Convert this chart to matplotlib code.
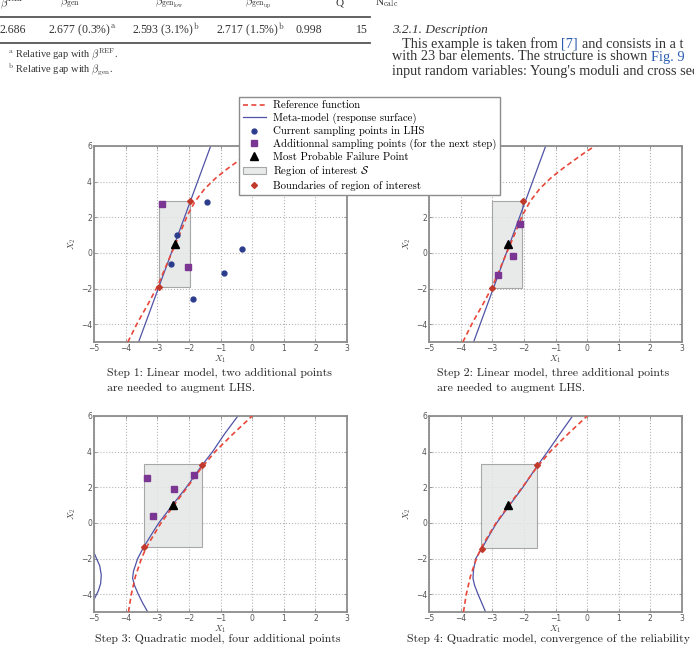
import matplotlib
matplotlib.use('Agg')
import matplotlib.pyplot as plt
from matplotlib.patches import Rectangle
from matplotlib.lines import Line2D

plt.rcParams['mathtext.fontset'] = 'cm'

W, H = 694, 646

# reference limit state as drawn in steps 1-2 and steps 3-4
ref_a_x = [-3.93, -3.62, -3.3, -3.0, -2.76, -2.52, -2.28, -2.05, -1.8, -1.5, -1.15, -0.8, -0.45, -0.1, 0.25]
ref_a_y = [-5.0, -3.9, -2.9, -1.9, -0.9, 0.1, 1.1, 2.1, 2.9, 3.6, 4.2, 4.7, 5.15, 5.6, 6.0]
ref_b_x = [-3.91, -3.82, -3.69, -3.5, -3.35, -3.22, -2.88, -2.47, -2.05, -1.64, -1.17, -0.6, 0.0]
ref_b_y = [-5.0, -4.0, -3.0, -2.0, -1.4, -1.0, 0.0, 1.0, 2.0, 3.0, 4.0, 5.0, 6.0]

# meta-models
lin_x = [-3.59, -1.31]
lin_y = [-5.0, 6.0]
quad3_x = [-3.30, -3.46, -3.6, -3.72, -3.78, -3.75, -3.62, -3.42, -3.13, -2.95, -2.52, -2.08, -1.57, -1.25, -0.87, -0.45]
quad3_y = [-5.0, -4.5, -4.0, -3.5, -3.1, -2.7, -2.0, -1.33, -0.5, 0.0, 1.0, 2.0, 3.27, 4.0, 5.0, 6.0]
quad3b_x = [-5.08, -5.0, -4.92, -4.82, -4.77, -4.79, -4.86, -5.0, -5.08]
quad3b_y = [-1.4, -1.67, -2.0, -2.4, -2.93, -3.4, -3.8, -4.3, -4.6]
quad4_x = [-3.21, -3.33, -3.45, -3.56, -3.61, -3.59, -3.52, -3.33, -3.03, -2.86, -2.45, -2.03, -1.57, -1.25, -0.86, -0.46]
quad4_y = [-5.0, -4.5, -4.0, -3.5, -3.1, -2.6, -2.0, -1.44, -0.5, 0.0, 1.0, 2.0, 3.22, 4.0, 5.0, 6.0]

# step 1 points
lhs1_x = [-2.38, -2.57, -1.42, -0.31, -0.89, -1.88]
lhs1_y = [1.01, -0.64, 2.86, 0.24, -1.12, -2.6]
add1_x = [-2.85, -2.03]
add1_y = [2.77, -0.77]
# step 2 points
add2_x = [-2.13, -2.34, -2.82]
add2_y = [1.65, -0.17, -1.22]
# step 3 points
add3_x = [-3.32, -2.48, -1.84, -3.15]
add3_y = [2.50, 1.88, 2.71, 0.40]

mpfp_x = [-2.44, -2.5, -2.5, -2.5]
mpfp_y = [0.52, 0.49, 1.0, 1.02]

# region of interest (x0, x1, y0, y1) and its boundary points
regions = [(-2.96, -1.96, -1.9, 2.93), (-3.02, -2.05, -1.95, 2.89),
           (-3.42, -1.57, -1.33, 3.33), (-3.35, -1.58, -1.42, 3.33)]
bnd_x = [[-2.95, -1.96], [-3.0, -2.02], [-3.42, -1.57], [-3.33, -1.58]]
bnd_y = [[-1.9, 2.9], [-1.95, 2.89], [-1.33, 3.27], [-1.44, 3.24]]

captions = [["Step 1: Linear model, two additional points", "are needed to augment LHS."],
            ["Step 2: Linear model, three additional points", "are needed to augment LHS."],
            ["Step 3: Quadratic model, four additional points"],
            ["Step 4: Quadratic model, convergence of the reliability"]]

RED = '#e8473a'
BLUE = '#5053a6'
NAVY = '#2c3c8c'
PURPLE = '#7b3592'
DIAM = '#c0392b'
LINK = '#2a5db0'
INK = '#333333'
CM = 'cmr10'
TXT = 'Liberation Serif'
BODY = 10.3

fig = plt.figure(figsize=(W / 100, H / 100), dpi=100)

boxes = [(94, 146), (429, 146), (94, 416), (429, 416)]
axes = []
for (px, py) in boxes:
    ax = fig.add_axes([px / W, 1 - (py + 196) / H, 253 / W, 196 / H])
    ax.set_xlim(-5, 3)
    ax.set_ylim(-5, 6)
    ax.set_xticks(range(-5, 4))
    ax.set_yticks([-4, -2, 0, 2, 4, 6])
    ax.grid(True, color='#b5b5b5', linestyle=':', linewidth=0.8)
    ax.set_axisbelow(True)
    for s in ax.spines.values():
        s.set_color('#8c8c8c')
        s.set_linewidth(1.3)
    ax.tick_params(direction='in', length=2, width=0.6, color='#888888',
                   labelsize=5.5, labelcolor='#555555', pad=1.5,
                   top=True, right=True)
    ax.set_xlabel('$X_1$', fontsize=6.5, labelpad=0, color='#444444')
    ax.set_ylabel('$X_2$', fontsize=6.5, labelpad=2, color='#444444')
    axes.append(ax)

ref_sets = [(ref_a_x, ref_a_y), (ref_a_x, ref_a_y), (ref_b_x, ref_b_y), (ref_b_x, ref_b_y)]
meta_sets = [[(lin_x, lin_y)], [(lin_x, lin_y)],
             [(quad3_x, quad3_y), (quad3b_x, quad3b_y)], [(quad4_x, quad4_y)]]

handles = {}
for i, ax in enumerate(axes):
    x0, x1, y0, y1 = regions[i]
    rect = Rectangle((x0, y0), x1 - x0, y1 - y0, facecolor='#e4e7e6',
                     edgecolor='#9a9a9a', linewidth=0.8, alpha=0.85, zorder=1)
    ax.add_patch(rect)
    handles['reg'] = rect
    rx, ry = ref_sets[i]
    handles['ref'], = ax.plot(rx, ry, '--', color=RED, linewidth=1.2, dashes=(3, 2), zorder=3)
    for mx, my in meta_sets[i]:
        handles['meta'], = ax.plot(mx, my, '-', color=BLUE, linewidth=0.9, zorder=2)
    handles['bnd'], = ax.plot(bnd_x[i], bnd_y[i], 'D', color=DIAM, markersize=3, zorder=5)
    handles['mpfp'], = ax.plot(mpfp_x[i], mpfp_y[i], '^', color='black', markersize=6, zorder=6)

a1 = axes[0]
handles['lhs'], = a1.plot(lhs1_x, lhs1_y, 'o', color=NAVY, markersize=3.5, zorder=4)
handles['add'], = a1.plot(add1_x, add1_y, 's', color=PURPLE, markersize=4.8, zorder=4)
axes[1].plot(add2_x, add2_y, 's', color=PURPLE, markersize=4.8, zorder=4)
axes[2].plot(add3_x, add3_y, 's', color=PURPLE, markersize=4.8, zorder=4)

leg_handles = [handles['ref'], handles['meta'], handles['lhs'], handles['add'],
               handles['mpfp'], handles['reg'], handles['bnd']]
leg_labels = ['Reference function', 'Meta-model (response surface)',
              'Current sampling points in LHS',
              'Additionnal sampling points (for the next step)',
              'Most Probable Failure Point', r'Region of interest $\mathcal{S}$',
              'Boundaries of region of interest']
leg = fig.legend(leg_handles, leg_labels, loc='upper left',
                 bbox_to_anchor=(239 / W, 1 - 97 / H), borderaxespad=0,
                 prop={'family': CM, 'size': 7.8}, numpoints=1, fancybox=False,
                 framealpha=1, edgecolor='#8c8c8c', labelspacing=0.22,
                 handlelength=2.1, handletextpad=0.65, borderpad=0.35)
leg.get_frame().set_linewidth(1.0)

# captions under the panels
cap_pos = [(107, 373), (437, 373), (95, 639), (407, 639)]
for (cx, cy), lines in zip(cap_pos, captions):
    for k, line in enumerate(lines):
        fig.text(cx / W, 1 - (cy + 15 * k) / H, line, family=CM, fontsize=8.5,
                 ha='left', va='center', color='#222222')

# page fragment above the figure
heads = [(0, r'$\beta^{\mathrm{REF}}$'), (60, r'$\beta_{\mathrm{gen}}$'),
         (155, r'$\beta_{\mathrm{gen_{low}}}$'), (245, r'$\beta_{\mathrm{gen_{up}}}$'),
         (335, 'Q'), (375, r'N$_{\mathrm{calc}}$')]
for hx, ht in heads:
    fig.text(hx / W, 1 - 3 / H, ht, family=TXT, fontsize=8, va='center', color=INK)
row = [(0, '2.686'), (48, r'2.677 (0.3%)$^{\mathrm{a}}$'), (132, r'2.593 (3.1%)$^{\mathrm{b}}$'),
       (216, r'2.717 (1.5%)$^{\mathrm{b}}$'), (296, '0.998'), (356, '15')]
for hx, ht in row:
    fig.text(hx / W, 1 - 30 / H, ht, family=TXT, fontsize=8.5, va='center', color=INK)
for ly in (17, 43):
    fig.add_artist(Line2D([0, 370 / W], [1 - ly / H, 1 - ly / H], color='#555555', linewidth=1.3))
fig.text(8 / W, 1 - 54 / H, r'$^{\mathrm{a}}$ Relative gap with $\beta^{\mathrm{REF}}$.',
         family=TXT, fontsize=7.5, va='center', color=INK)
fig.text(8 / W, 1 - 69 / H, r'$^{\mathrm{b}}$ Relative gap with $\beta_{\mathrm{gen}}$.',
         family=TXT, fontsize=7.5, va='center', color=INK)

fig.text(392 / W, 1 - 30 / H, '3.2.1. Description', family=TXT, style='italic',
         fontsize=9.5, va='center', color=INK)

renderer = fig.canvas.get_renderer()


def text_width(s):
    # width of s in figure fraction, measured with a trailing marker glyph
    t1 = fig.text(0, 0, s + 'x', family=TXT, fontsize=BODY)
    t2 = fig.text(0, 0, 'x', family=TXT, fontsize=BODY)
    w = t1.get_window_extent(renderer).width - t2.get_window_extent(renderer).width
    t1.remove()
    t2.remove()
    return w / W


body = [(402, 44, [('This example is taken from ', INK), ('[7]', LINK),
                   (' and consists in a t', INK)]),
        (392, 57, [('with 23 bar elements. The structure is shown ', INK), ('Fig. 9', LINK)]),
        (392, 71, [("input random variables: Young's moduli and cross sec", INK)])]
for bx, by, pieces in body:
    prefix = ''
    for s, c in pieces:
        word = s.lstrip(' ')
        lead = prefix + s[:len(s) - len(word)]
        x = bx / W + (text_width(lead) if lead else 0)
        fig.text(x, 1 - by / H, word, family=TXT, fontsize=BODY, va='center', color=c)
        prefix += s

fig.savefig('out.png', dpi=100)
